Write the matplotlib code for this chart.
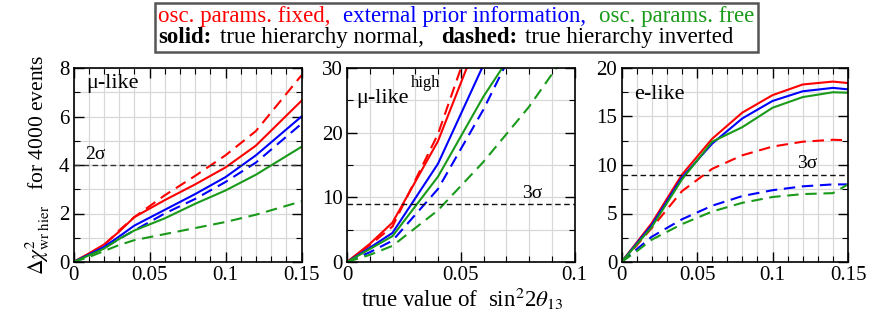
import matplotlib
matplotlib.use("Agg")
import matplotlib.pyplot as plt
from matplotlib.ticker import MultipleLocator
from matplotlib.offsetbox import TextArea, HPacker, VPacker, AnchoredOffsetbox

plt.rcParams['font.family'] = ['Liberation Serif', 'DejaVu Serif']
plt.rcParams['mathtext.fontset'] = 'stix'

# ---------------- data ----------------
# panel 1: mu-like
x_mu = [0, 0.01, 0.02, 0.03, 0.04, 0.06, 0.08, 0.10, 0.12, 0.15]
mu_red_solid = [0, 0.35, 0.72, 1.25, 1.85, 2.55, 3.2, 3.9, 4.8, 6.65]
mu_red_dash = [0, 0.33, 0.68, 1.3, 1.85, 2.75, 3.55, 4.4, 5.4, 7.7]
mu_blue_solid = [0, 0.3, 0.62, 1.05, 1.5, 2.15, 2.8, 3.5, 4.4, 6.0]
mu_blue_dash = [0, 0.28, 0.57, 0.95, 1.3, 2.0, 2.6, 3.3, 4.1, 5.7]
mu_green_solid = [0, 0.27, 0.55, 0.95, 1.3, 1.8, 2.4, 2.95, 3.6, 4.75]
mu_green_dash = [0, 0.2, 0.45, 0.7, 0.9, 1.15, 1.4, 1.65, 1.95, 2.5]

# panel 2: mu-like high
x_hi = [0, 0.01, 0.02, 0.04, 0.06, 0.08, 0.10]
hi_red_solid = [0, 2.8, 6.1, 18.7, 36.6, 55.0, 73.0]
hi_red_dash = [0, 2.6, 5.5, 19.8, 40.0, 60.0, 80.0]
hi_blue_solid = [0, 2.2, 4.5, 15.2, 30.5, 46.0, 62.0]
hi_blue_dash = [0, 1.5, 3.3, 11.3, 23.6, 37.8, 52.0]
hi_green_solid = [0, 2.0, 4.0, 13.2, 25.6, 36.3, 47.0]
hi_green_dash = [0, 1.1, 2.5, 8.0, 15.5, 24.0, 34.0]

# panel 3: e-like
x_e = [0, 0.01, 0.02, 0.04, 0.06, 0.08, 0.10, 0.12, 0.14, 0.15]
e_red_solid = [0, 2.0, 4.0, 9.0, 12.7, 15.4, 17.2, 18.3, 18.6, 18.45]
e_red_dash = [0, 1.7, 3.5, 7.3, 9.6, 11.0, 11.9, 12.4, 12.6, 12.55]
e_blue_solid = [0, 1.9, 3.8, 8.7, 12.2, 14.8, 16.6, 17.6, 17.95, 17.8]
e_blue_dash = [0, 1.3, 2.6, 4.4, 5.8, 6.8, 7.4, 7.8, 8.0, 8.0]
e_green_solid = [0, 1.8, 3.6, 8.5, 12.4, 13.9, 15.9, 17.0, 17.5, 17.45]
e_green_dash = [0, 1.1, 2.3, 3.9, 5.2, 6.1, 6.7, 7.0, 7.1, 8.0]

sigma2 = 4
sigma3 = 9

RED, BLUE, GREEN = '#ff0000', '#0000ff', '#1a9a1a'

fig = plt.figure(figsize=(8.72, 3.27), dpi=100)
W, H = 872, 327

def ax_at(x0, x1, y_top=68, y_bot=262):
    return fig.add_axes([x0 / W, (H - y_bot) / H, (x1 - x0) / W, (y_bot - y_top) / H])

ax1 = ax_at(73.5, 301.5)
ax2 = ax_at(347, 574.5)
ax3 = ax_at(621.5, 848)

dash_long = (0, (5.5, 3.2))

def style(ax, xmax, ymax, xmin, ymaj, ymin, xticks, xlabels):
    ax.set_xlim(0, xmax)
    ax.set_ylim(0, ymax)
    ax.xaxis.set_minor_locator(MultipleLocator(xmin))
    ax.yaxis.set_major_locator(MultipleLocator(ymaj))
    ax.yaxis.set_minor_locator(MultipleLocator(ymin))
    ax.set_xticks(xticks)
    ax.set_xticklabels(xlabels)
    ax.grid(True, which='both', color='#d8d8d8', lw=0.9, zorder=0)
    ax.set_axisbelow(True)
    ax.tick_params(which='both', direction='in', top=True, right=True, labelsize=15, pad=3)
    ax.tick_params(which='major', length=7, width=1.0)
    ax.tick_params(which='minor', length=4, width=0.8)
    for s in ax.spines.values():
        s.set_linewidth(1.2)

lw = 1.5
# panel 1
ax1.plot(x_mu, mu_red_dash, color=RED, lw=lw, ls=dash_long)
ax1.plot(x_mu, mu_red_solid, color=RED, lw=lw)
ax1.plot(x_mu, mu_blue_dash, color=BLUE, lw=lw, ls=dash_long)
ax1.plot(x_mu, mu_blue_solid, color=BLUE, lw=lw)
ax1.plot(x_mu, mu_green_dash, color=GREEN, lw=lw, ls=dash_long)
ax1.plot(x_mu, mu_green_solid, color=GREEN, lw=lw)
ax1.axhline(sigma2, color='#333333', lw=1.0, ls=(0, (4, 2.5)))
ax1.text(0.0075, 4.1, '2σ', fontsize=14, ha='left', va='bottom')
ax1.text(0.0085, 6.95, 'μ-like', fontsize=16, ha='left', va='bottom')
style(ax1, 0.15, 8, 0.01, 2, 1, [0, 0.05, 0.1, 0.15], ['0', '0.05', '0.1', '0.15'])

# panel 2
ax2.plot(x_hi, hi_red_dash, color=RED, lw=lw, ls=dash_long)
ax2.plot(x_hi, hi_red_solid, color=RED, lw=lw)
ax2.plot(x_hi, hi_blue_dash, color=BLUE, lw=lw, ls=dash_long)
ax2.plot(x_hi, hi_blue_solid, color=BLUE, lw=lw)
ax2.plot(x_hi, hi_green_dash, color=GREEN, lw=lw, ls=dash_long)
ax2.plot(x_hi, hi_green_solid, color=GREEN, lw=lw)
ax2.axhline(sigma3, color='#111111', lw=1.0, ls=(0, (4, 2.5)))
ax2.text(0.077, 9.3, '3σ', fontsize=14, ha='left', va='bottom')
ax2.text(0.004, 23.8, 'μ-like', fontsize=16, ha='left', va='bottom')
ax2.text(0.0283, 26.5, 'high', fontsize=12, ha='left', va='bottom')
style(ax2, 0.1, 30, 0.01, 10, 5, [0, 0.05, 0.1], ['0', '0.05', '0.1'])

# panel 3
ax3.plot(x_e, e_red_dash, color=RED, lw=lw, ls=dash_long)
ax3.plot(x_e, e_red_solid, color=RED, lw=lw)
ax3.plot(x_e, e_blue_dash, color=BLUE, lw=lw, ls=dash_long)
ax3.plot(x_e, e_blue_solid, color=BLUE, lw=lw)
ax3.plot(x_e, e_green_dash, color=GREEN, lw=lw, ls=dash_long)
ax3.plot(x_e, e_green_solid, color=GREEN, lw=lw)
ax3.axhline(sigma3, color='#111111', lw=1.0, ls=(0, (4, 2.5)))
ax3.text(0.116, 9.25, '3σ', fontsize=14, ha='left', va='bottom')
ax3.text(0.0085, 16.3, 'e-like', fontsize=16, ha='left', va='bottom')
style(ax3, 0.15, 20, 0.01, 5, 2.5, [0, 0.05, 0.1, 0.15], ['0', '0.05', '0.1', '0.15'])

# axis labels
fig.text(38 / W, (H - 165) / H, r'$\Delta\chi^2_{\rm wr\ hier}$   for 4000 events',
         rotation=90, ha='center', va='center', fontsize=15.5)
fig.text(462 / W, (H - 299) / H, r'true value of  sin$^2$2$\theta_{13}$',
         ha='center', va='center', fontsize=16.5)

# header box
fs = 16.5
line1 = HPacker(children=[
    TextArea('osc. params. fixed,', textprops=dict(color=RED, size=fs)),
    TextArea('external prior information,', textprops=dict(color=BLUE, size=fs)),
    TextArea('osc. params. free', textprops=dict(color=GREEN, size=fs)),
], align='baseline', pad=0, sep=9)
line2 = HPacker(children=[
    TextArea('solid:', textprops=dict(color='black', size=fs, weight='bold')),
    TextArea('true hierarchy normal,', textprops=dict(color='black', size=fs)),
    TextArea('', textprops=dict(size=fs)),
    TextArea('dashed:', textprops=dict(color='black', size=fs, weight='bold')),
    TextArea('true hierarchy inverted', textprops=dict(color='black', size=fs)),
], align='baseline', pad=0, sep=6)
box = VPacker(children=[line1, line2], align='left', pad=0, sep=0)
anch = AnchoredOffsetbox(loc='upper left', child=box, pad=0.25, borderpad=0,
                         frameon=True, bbox_to_anchor=(155 / W, 1 - 3 / H),
                         bbox_transform=fig.transFigure)
anch.patch.set_edgecolor('#555555')
anch.patch.set_linewidth(1.8)
anch.patch.set_boxstyle('square', pad=0)
fig.add_artist(anch)

fig.savefig('out.png', dpi=100)
